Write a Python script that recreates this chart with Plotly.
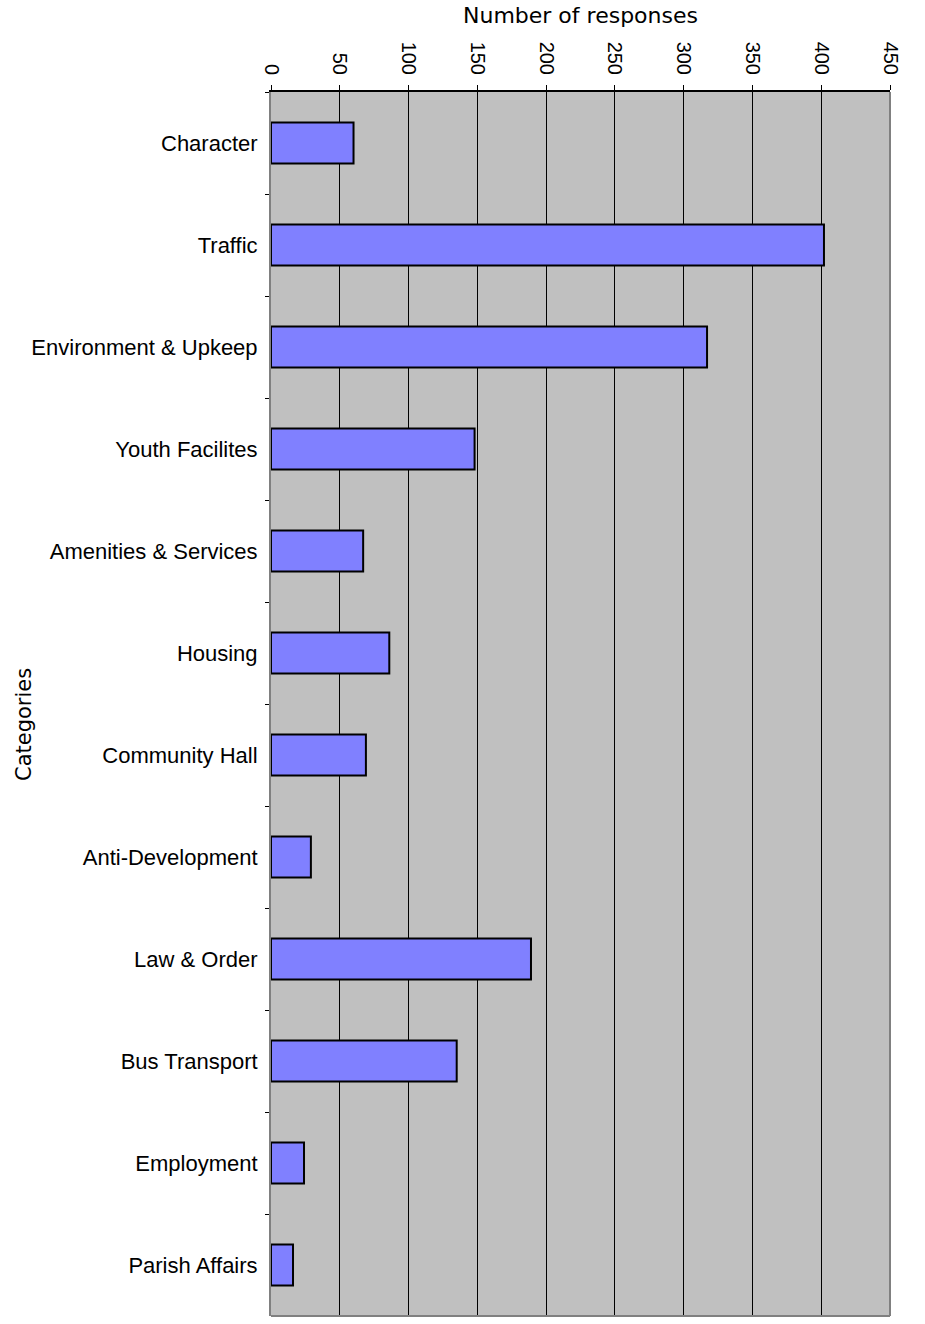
import plotly.graph_objects as go

categories = ["Character", "Traffic", "Environment & Upkeep", "Youth Facilites",
              "Amenities & Services", "Housing", "Community Hall", "Anti-Development",
              "Law & Order", "Bus Transport", "Employment", "Parish Affairs"]
responses = [60, 402, 317, 148, 67, 86, 69, 29, 189, 135, 24, 16]
x_ticks = [0, 50, 100, 150, 200, 250, 300, 350, 400, 450]

FONT = "Liberation Sans, Arial, sans-serif"
TFONT = "DejaVu Sans, Verdana, sans-serif"

fig = go.Figure()
fig.add_trace(go.Bar(
    y=categories, x=responses, orientation="h",
    marker=dict(color="#8080FF", line=dict(color="black", width=2)),
    hoverinfo="x+y",
))

fig.update_layout(
    width=925, height=1324,
    margin=dict(l=271, r=35, t=92, b=8),
    paper_bgcolor="white", plot_bgcolor="#C0C0C0",
    bargap=0.6, showlegend=False,
    font=dict(family=FONT, color="black"),
    xaxis=dict(
        side="top", range=[0, 450], tickvals=x_ticks, tickangle=90,
        tickfont=dict(size=20, family=FONT), showgrid=True, gridcolor="black", gridwidth=1,
        ticks="outside", ticklen=5, tickcolor="black", tickwidth=1, showline=True,
        linecolor="black", linewidth=2, zeroline=False, fixedrange=True,
        ticklabelstandoff=3,
    ),
    yaxis=dict(
        autorange="reversed", type="category", tickfont=dict(size=22, family=FONT),
        ticks="outside", tickson="boundaries", ticklen=4, tickcolor="black",
        showline=True, linecolor="#808080", linewidth=2, showgrid=False,
        ticklabelstandoff=7, fixedrange=True,
    ),
    annotations=[
        dict(text="Number of responses", xref="paper", yref="paper", x=0.5, y=1,
             yshift=77, showarrow=False, font=dict(size=22, family=TFONT),
             xanchor="center", yanchor="middle"),
        dict(text="Categories", xref="paper", yref="paper", x=0, xshift=-247, y=0.5,
             yshift=-21, showarrow=False, textangle=-90, font=dict(size=21, family=TFONT),
             xanchor="center", yanchor="middle"),
    ],
    shapes=[
        dict(type="line", xref="paper", yref="paper", x0=1, x1=1, y0=0, y1=1,
             line=dict(color="#808080", width=2)),
        dict(type="line", xref="paper", yref="paper", x0=0, x1=1, y0=0, y1=0,
             line=dict(color="#808080", width=2)),
    ],
)

fig.write_html("out.html", config={"displayModeBar": False},
               post_script="document.body.style.margin='0px';")
